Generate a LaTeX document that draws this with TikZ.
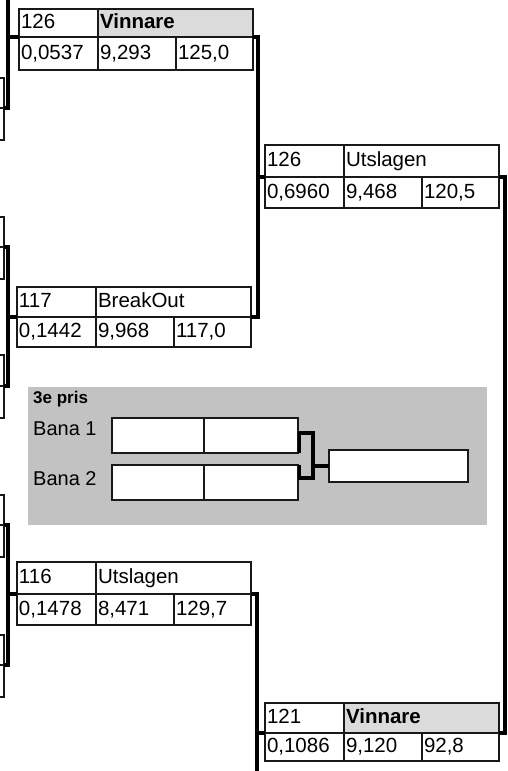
\documentclass[tikz,border=0pt]{standalone}
\usepackage{fontspec}
\setmainfont{Liberation Sans}
\newcommand{\cellfont}{\fontsize{20.5}{24}\selectfont}
\tikzset{
  cell/.style={draw=black!90, line width=1.1pt, fill=white, inner xsep=2pt, inner ysep=0pt,
    outer sep=0pt, anchor=north west, text height=15pt, text depth=4pt, align=left, font=\cellfont},
  wa/.style={text width=75pt},
  wb/.style={text width=74pt},
  wc/.style={text width=73pt},
  wab/.style={text width=151pt},
  win/.style={fill=gray!28, font=\cellfont\bfseries},
  link/.style={draw=black, line width=3.4pt},
  panel/.style={fill=gray!48, draw=none, anchor=north west, inner sep=0pt, outer sep=0pt},
  lbl/.style={inner sep=0pt, anchor=base west, font=\fontsize{20}{24}\selectfont},
  blank/.style={cell, fill=white},
}
\begin{document}
\begin{tikzpicture}[x=1pt, y=-1pt]
\useasboundingbox (0,0) rectangle (507,771);
\clip (0,0) rectangle (507,771);

% ---- partial boxes on the left edge
\node[blank, minimum width=104pt, minimum height=30pt] (p1a) at (-100,78) {};
\node[blank, minimum width=104pt, minimum height=32pt] (p1b) at (p1a.south west) {};
\node[blank, minimum width=104pt, minimum height=30pt] (p2a) at (-100,217) {};
\node[blank, minimum width=104pt, minimum height=32pt] (p2b) at (p2a.south west) {};
\node[blank, minimum width=104pt, minimum height=31pt] (p3a) at (-100,355) {};
\node[blank, minimum width=104pt, minimum height=32pt] (p3b) at (p3a.south west) {};
\node[blank, minimum width=104pt, minimum height=30pt] (p4a) at (-100,495) {};
\node[blank, minimum width=104pt, minimum height=32pt] (p4b) at (p4a.south west) {};
\node[blank, minimum width=104pt, minimum height=30pt] (p5a) at (-100,635) {};
\node[blank, minimum width=104pt, minimum height=32pt] (p5b) at (p5a.south west) {};

% ---- box 1 : 126 Vinnare
\node[cell, wa, minimum height=28pt] (b1s) at (19,9) {126};
\node[cell, wab, win, minimum height=28pt] (b1n) at (b1s.north east) {Vinnare};
\node[cell, wa, minimum height=33pt] (b1a) at (b1s.south west) {0,0537};
\node[cell, wb, minimum height=33pt] (b1b) at (b1a.north east) {9,293};
\node[cell, wc, minimum height=33pt] (b1c) at (b1b.north east) {125,0};

% ---- box 2 : 126 Utslagen
\node[cell, wa, minimum height=32pt] (b2s) at (265,145) {126};
\node[cell, wab, minimum height=32pt] (b2n) at (b2s.north east) {Utslagen};
\node[cell, wa, minimum height=31pt] (b2a) at (b2s.south west) {0,6960};
\node[cell, wb, minimum height=31pt] (b2b) at (b2a.north east) {9,468};
\node[cell, wc, minimum height=31pt] (b2c) at (b2b.north east) {120,5};

% ---- box 3 : 117 BreakOut
\node[cell, wa, minimum height=30pt] (b3s) at (17,287) {117};
\node[cell, wab, minimum height=30pt] (b3n) at (b3s.north east) {BreakOut};
\node[cell, wa, minimum height=30pt] (b3a) at (b3s.south west) {0,1442};
\node[cell, wb, minimum height=30pt] (b3b) at (b3a.north east) {9,968};
\node[cell, wc, minimum height=30pt] (b3c) at (b3b.north east) {117,0};

% ---- box 4 : 116 Utslagen
\node[cell, wa, minimum height=32pt] (b4s) at (17,562) {116};
\node[cell, wab, minimum height=32pt] (b4n) at (b4s.north east) {Utslagen};
\node[cell, wa, minimum height=31pt] (b4a) at (b4s.south west) {0,1478};
\node[cell, wb, minimum height=31pt] (b4b) at (b4a.north east) {8,471};
\node[cell, wc, minimum height=31pt] (b4c) at (b4b.north east) {129,7};

% ---- box 5 : 121 Vinnare
\node[cell, wa, minimum height=30pt] (b5s) at (265,703) {121};
\node[cell, wab, win, minimum height=30pt] (b5n) at (b5s.north east) {Vinnare};
\node[cell, wa, minimum height=28pt] (b5a) at (b5s.south west) {0,1086};
\node[cell, wb, minimum height=28pt] (b5b) at (b5a.north east) {9,120};
\node[cell, wc, minimum height=28pt] (b5c) at (b5b.north east) {92,8};

% ---- bracket coordinates
\coordinate (v1) at (8,0);
\coordinate (v3) at (258,0);
\coordinate (v4) at (257,771);
\coordinate (v5) at (505,0);

% left bracket 1 (upper end off the page)
\draw[link] (v1) |- (p1a.south east);
\draw[link] (b1s.south west) -- (b1s.south west -| v1);
% left bracket 2
\draw[link] (p2a.south east) -| (v1 |- p3a.south east) -- (p3a.south east);
\draw[link] (b3s.south west) -- (b3s.south west -| v1);
% left bracket 3
\draw[link] (p4a.south east) -| (v1 |- p5a.south east) -- (p5a.south east);
\draw[link] (b4s.south west) -- (b4s.south west -| v1);
% middle bracket upper
\draw[link] (b1c.north east) -| (v3 |- b3c.north east) -- (b3c.north east);
\draw[link] (b2s.south west) -- (b2s.south west -| v3);
% middle bracket lower (lower end off the page)
\draw[link] (b4c.north east) -| (v4);
\draw[link] (b5s.south west) -- (b5s.south west -| v4);
% right bracket
\draw[link] (b2c.north east) -| (v5 |- b5c.north east) -- (b5c.north east);

% ---- 3rd prize panel
\node[panel, minimum width=459pt, minimum height=138pt] (panel) at (28,387) {};
\node[inner sep=0pt, anchor=base west, font=\fontsize{17}{20}\selectfont\bfseries] (prize) at (33,403) {3e pris};
\node[lbl] (bana1) at (33,435) {Bana 1};
\node[lbl] (bana2) at (33,485) {Bana 2};
\node[blank, minimum width=92pt, minimum height=35pt] (c1a) at (112,418) {};
\node[blank, minimum width=94pt, minimum height=35pt] (c1b) at (c1a.north east) {};
\node[blank, minimum width=92pt, minimum height=35pt] (c2a) at (112,465) {};
\node[blank, minimum width=94pt, minimum height=35pt] (c2b) at (c2a.north east) {};
\node[blank, minimum width=139pt, minimum height=32pt] (res) at (329,450) {};
\coordinate (br) at (313,0);
\draw[link] ([xshift=1.5pt]c1b.south east) -- ++(0,-20) -| ([yshift=-13pt]br |- c2b.north east) -- ([xshift=1.5pt,yshift=-13pt]c2b.north east) -- ([xshift=1.5pt]c2b.north east);
\draw[link] (res.west) -- (res.west -| br);
\end{tikzpicture}
\end{document}
